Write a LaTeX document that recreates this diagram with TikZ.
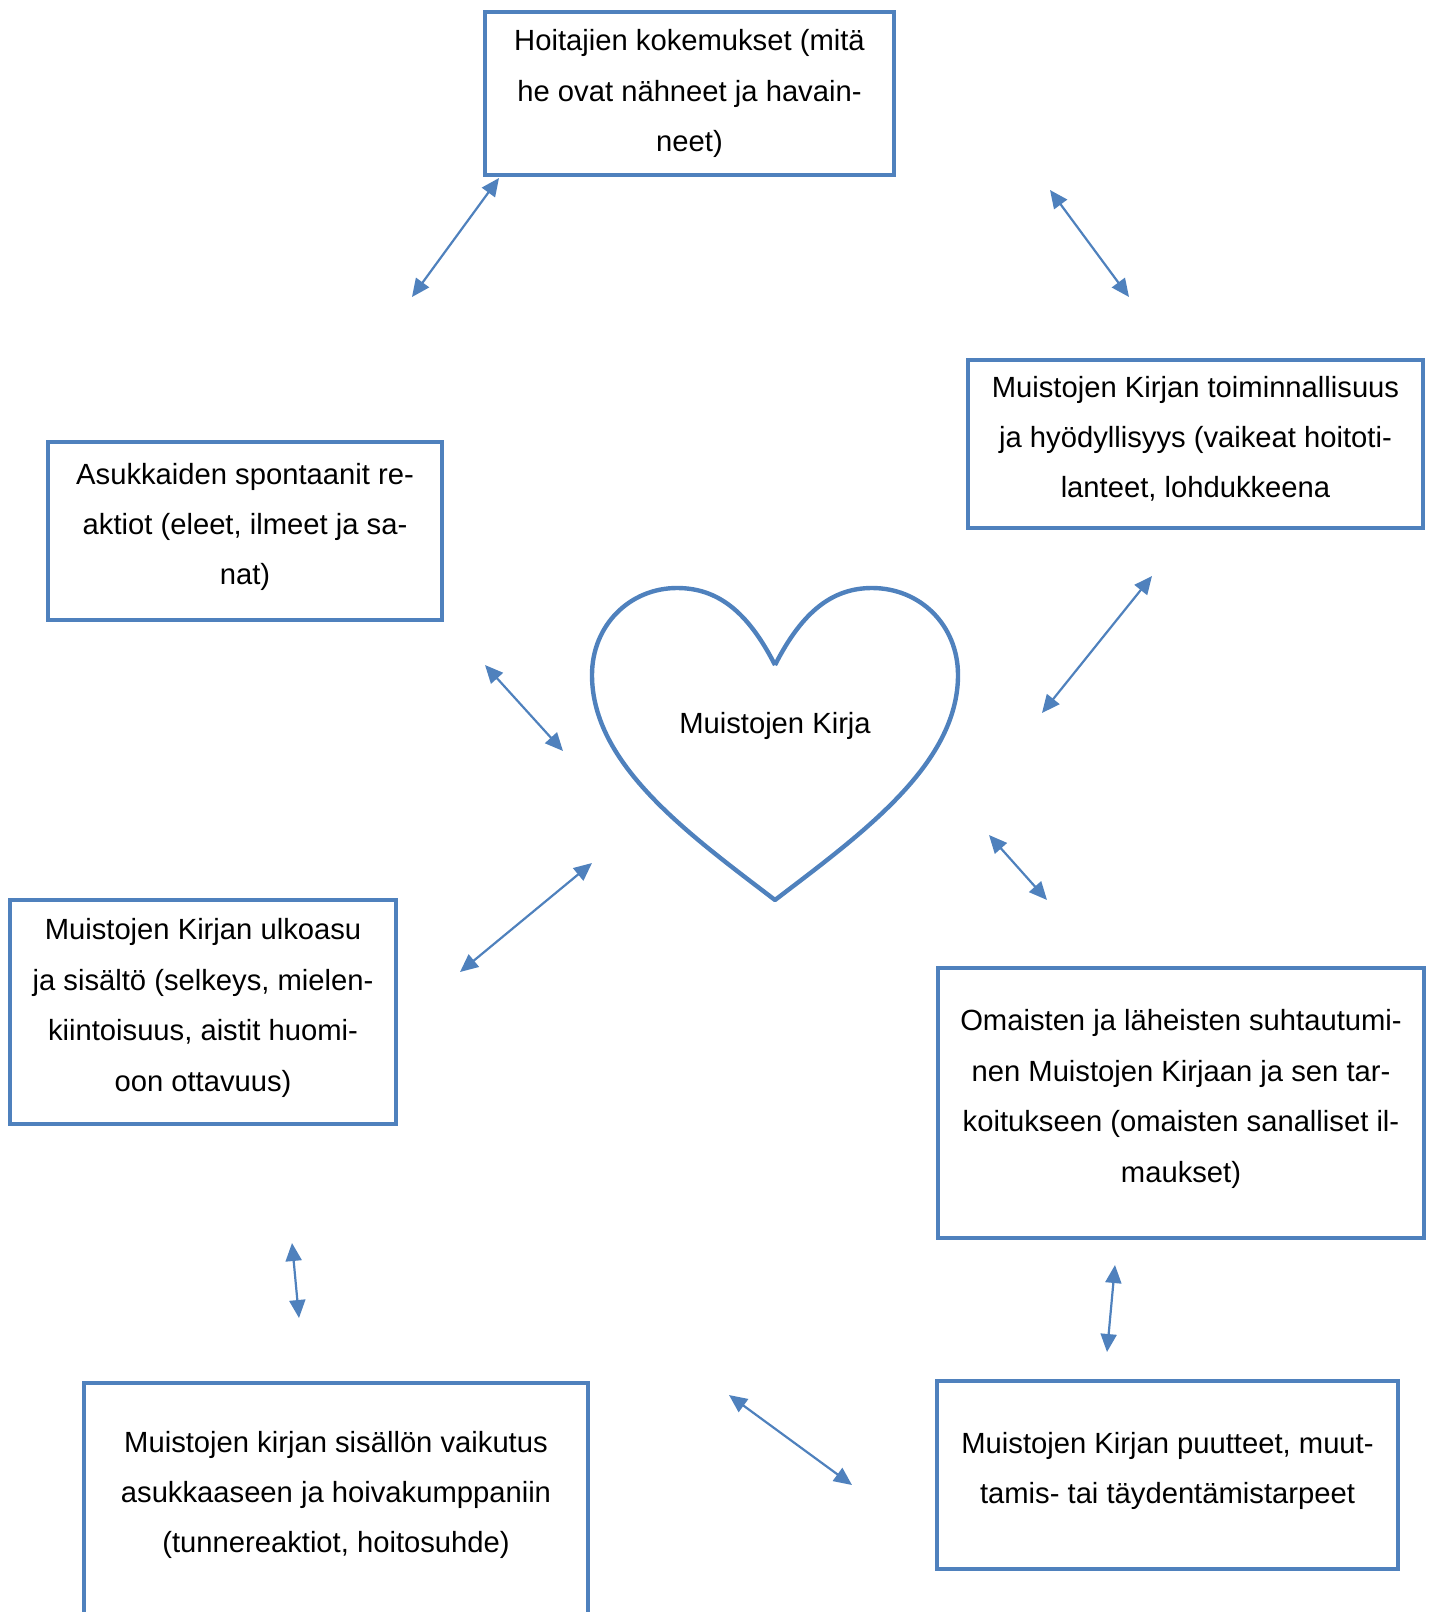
\documentclass[tikz,border=0pt]{standalone}
\usepackage{fontspec}
\setmainfont{Liberation Sans}
\usetikzlibrary{arrows.meta}
\definecolor{boxblue}{HTML}{4F81BD}

\begin{document}
\begin{tikzpicture}[x=0.5pt, y=-0.5pt,
        box/.style={draw=boxblue, line width=2.2pt, align=center, inner sep=0pt,
            font=\fontsize{14.6pt}{25.2pt}\selectfont},
        lift/.style={execute at end node={\rule[-7pt]{0pt}{7pt}}},
        link/.style={draw=boxblue, line width=1.1pt, >={Triangle[length=9pt,width=8pt]}, <->}
    ]
        \clip (0, 0) rectangle (1436, 1612);

        % boxes round the heart (sizes in pt, half the pixel size)
        \node[box, minimum width=204.5pt, minimum height=81.5pt] (nurses) at (689.5, 93.5)
            {Hoitajien kokemukset (mitä\\he ovat nähneet ja havain-\\neet)};
        \node[box, lift, minimum width=227.5pt, minimum height=84pt] (use) at (1195.5, 444)
            {Muistojen Kirjan toiminnallisuus\\ja hyödyllisyys (vaikeat hoitoti-\\lanteet, lohdukkeena};
        \node[box, lift, minimum width=197pt, minimum height=89pt] (reactions) at (245, 531)
            {Asukkaiden spontaanit re-\\aktiot (eleet, ilmeet ja sa-\\nat)};
        \node[box, lift, minimum width=193pt, minimum height=112pt] (looks) at (203, 1012)
            {Muistojen Kirjan ulkoasu\\ja sisältö (selkeys, mielen-\\kiintoisuus, aistit huomi-\\oon ottavuus)};
        \node[box, lift, minimum width=243pt, minimum height=135pt] (relatives) at (1181, 1103)
            {Omaisten ja läheisten suhtautumi-\\nen Muistojen Kirjaan ja sen tar-\\koitukseen (omaisten sanalliset il-\\maukset)};
        \node[box, lift, minimum width=230.5pt, minimum height=94pt] (needs) at (1167.5, 1475)
            {Muistojen Kirjan puutteet, muut-\\tamis- tai täydentämistarpeet};
        \draw[draw=boxblue, line width=2.2pt] (84, 1700) |- (588, 1383) -- (588, 1700);
        \node[box, lift, draw=none] (effect) at (336, 1499)
            {Muistojen kirjan sisällön vaikutus\\asukkaaseen ja hoivakumppaniin\\(tunnereaktiot, hoitosuhde)};

        % heart
        \draw[draw=boxblue, line width=2.2pt, line join=round]
            (775, 665) .. controls (748, 612) and (718, 588) .. (677, 588)
            .. controls (630, 588) and (592, 625) .. (592, 675)
            .. controls (592, 765) and (690, 835) .. (775, 900)
            .. controls (860, 835) and (958, 765) .. (958, 675)
            .. controls (958, 625) and (920, 588) .. (872, 588)
            .. controls (832, 588) and (802, 612) .. (775, 665);
        \node[font=\fontsize{14.6pt}{25.2pt}\selectfont] (book) at (775, 726) {Muistojen Kirja};

        % arrows
        \coordinate (a1) at (499, 178);   \coordinate (b1) at (412, 297);
        \coordinate (a2) at (1050, 190);  \coordinate (b2) at (1129, 297);
        \coordinate (a3) at (1152, 576);  \coordinate (b3) at (1042, 713);
        \coordinate (a4) at (485, 665);   \coordinate (b4) at (563, 751);
        \coordinate (a5) at (592, 863);   \coordinate (b5) at (460, 972);
        \coordinate (a6) at (989, 835);   \coordinate (b6) at (1047, 900);
        \coordinate (a7) at (292, 1243);  \coordinate (b7) at (299, 1318);
        \coordinate (a8) at (1115, 1265); \coordinate (b8) at (1107, 1352);
        \coordinate (a9) at (729, 1395);  \coordinate (b9) at (852, 1485);
        \draw[link] (a1) -- (b1);
        \draw[link] (a2) -- (b2);
        \draw[link] (a3) -- (b3);
        \draw[link] (a4) -- (b4);
        \draw[link] (a5) -- (b5);
        \draw[link] (a6) -- (b6);
        \draw[link] (a7) -- (b7);
        \draw[link] (a8) -- (b8);
        \draw[link] (a9) -- (b9);
    \end{tikzpicture}
\end{document}
